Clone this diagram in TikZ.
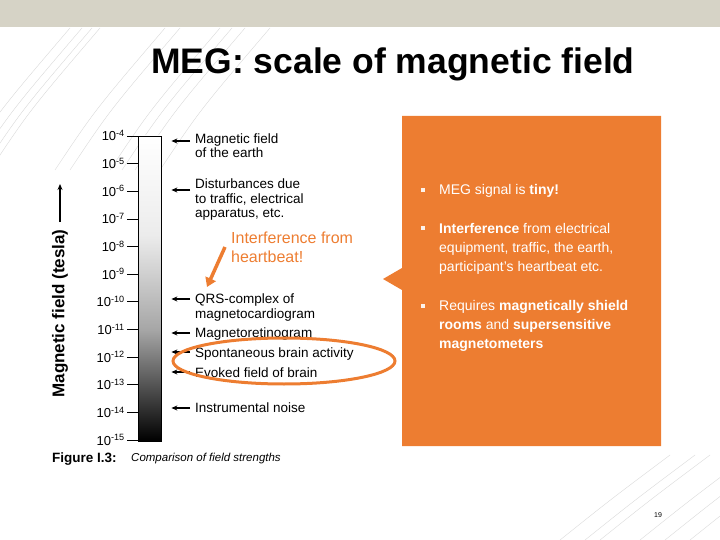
\documentclass[tikz,border=0pt]{standalone}
\usepackage{fontspec}
\setmainfont{Liberation Sans}
\usepackage{tikz}
\usetikzlibrary{arrows.meta,positioning}
\definecolor{megorange}{RGB}{237,125,49}
\definecolor{bandgrey}{RGB}{214,211,198}

\begin{document}
\begin{tikzpicture}[x=1pt,y=-1pt,
    lbl/.style={anchor=base west, align=left, inner sep=0pt, font=\fontsize{13.5}{14.5}\selectfont},
    tick/.style={anchor=base east, inner sep=0pt, font=\fontsize{13}{14}\selectfont},
    pointer/.style={-{Stealth[length=6pt,width=5pt]}, line width=1.1pt},
    bullet/.style={anchor=base west, align=left, inner sep=0pt, text=white, font=\fontsize{14}{19}\selectfont},
    sq/.style={fill=white!90!megorange, minimum size=4pt, inner sep=0pt},
    faint/.style={gray!30, line width=0.4pt}]
    \useasboundingbox (0,0) rectangle (720,540);
    \fill[bandgrey] (0,0) rectangle (720,27);

    % faint background strokes
    \foreach \s in {0,12,22,30,95,110,150,162,175,200} {
        \draw[faint] (\s-40,170) .. controls (\s,110) .. (\s+70,28);
    }
    \foreach \s in {560,585,600,640,665,690} {
        \draw[faint] (\s,540) .. controls (\s+50,500) .. (\s+110,455);
    }

    \node (title) [anchor=base, font=\fontsize{35.5}{40}\selectfont\bfseries] at (393,74) {MEG: scale of magnetic field};

    % field strength bar
    \shade[top color=white, bottom color=gray!15] (138,136) rectangle (161,235);
    \shade[top color=gray!15, bottom color=gray!70] (138,235) rectangle (161,330);
    \shade[top color=gray!70, bottom color=black] (138,330) rectangle (161,441);
    \node (bar) [draw, line width=0.8pt, inner sep=0pt, minimum width=23pt, minimum height=305pt] at (149.5,288.5) {};

    \foreach \e [count=\k from 0] in {4,...,15} {
        \draw[line width=0.8pt] (127,136+27.64*\k) -- (138,136+27.64*\k);
        \node (t\e) [tick] at (125,141+27.64*\k) {10\textsuperscript{-\e}};
    }

    \node (ylab) [rotate=90, inner sep=0pt, font=\fontsize{17}{19}\selectfont\bfseries] at (60,313.5) {Magnetic field (tesla)};
    \coordinate (ytip) at (60,184);
    \draw[pointer, shorten <=7pt] (ylab.east) -- (ytip);

    % sources (base = last line)
    \node (earth) [lbl] at (195,158) {Magnetic field\\of the earth};
    \node (traffic) [lbl] at (195,218) {Disturbances due\\to traffic, electrical\\apparatus, etc.};
    \node (qrs) [lbl] at (195,318) {QRS-complex of\\magnetocardiogram};
    \node (retina) [lbl] at (195,337) {Magnetoretinogram};
    \node (spont) [lbl] at (195,357) {Spontaneous brain activity};
    \node (evoked) [lbl] at (195,377) {Evoked field of brain};
    \node (noise) [lbl] at (195,412) {Instrumental noise};
    \foreach \n/\up in {earth/17,traffic/28,qrs/19,retina/4,spont/5,evoked/5,noise/4} {
        \draw[pointer] ([xshift=-5pt,yshift=\up pt]\n.base west) -- ([xshift=10pt,yshift=\up pt]\n.base west -| bar.east);
    }

    \node (fig) [anchor=base west, inner sep=0pt, font=\fontsize{13.5}{15}\selectfont\bfseries] at (52,462) {Figure I.3:};
    \node (cap) [anchor=base west, inner sep=0pt, font=\fontsize{11.5}{13}\selectfont\itshape] at (131,461) {Comparison of field strengths};

    % annotations
    \node (heart) [anchor=base west, align=left, inner sep=0pt, text=megorange, font=\fontsize{16}{19}\selectfont] at (231,262) {Interference from\\heartbeat!};
    \coordinate (qrstip) at (207,287);
    \draw[megorange, line width=3.5pt, -{Triangle[length=9pt,width=11pt]}] ([xshift=-6pt,yshift=15pt]heart.base west) -- (qrstip);
    \draw[megorange, line width=3pt] (284,361) ellipse [x radius=111, y radius=23];

    % orange panel
    \fill[megorange] (402,116) -- (661,116) -- (661,446) -- (402,446) -- (402,290) -- (383,279) -- (402,268) -- cycle;
    \node (b1) [bullet] at (439,195) {MEG signal is \textbf{tiny!}};
    \node (b2) [bullet] at (439,271) {\textbf{Interference} from electrical\\equipment, traffic, the earth,\\participant's heartbeat etc.};
    \node (b3) [bullet] at (439,348) {Requires \textbf{magnetically shield}\\\textbf{rooms} and \textbf{supersensitive}\\\textbf{magnetometers}};
    \foreach \b/\up in {b1/4.5,b2/42.5,b3/42.5} {
        \node [sq] at ([xshift=-16pt,yshift=\up pt]\b.base west) {};
    }

    \node (page) [font=\fontsize{7}{8}\selectfont] at (658,515) {19};
\end{tikzpicture}
\end{document}
